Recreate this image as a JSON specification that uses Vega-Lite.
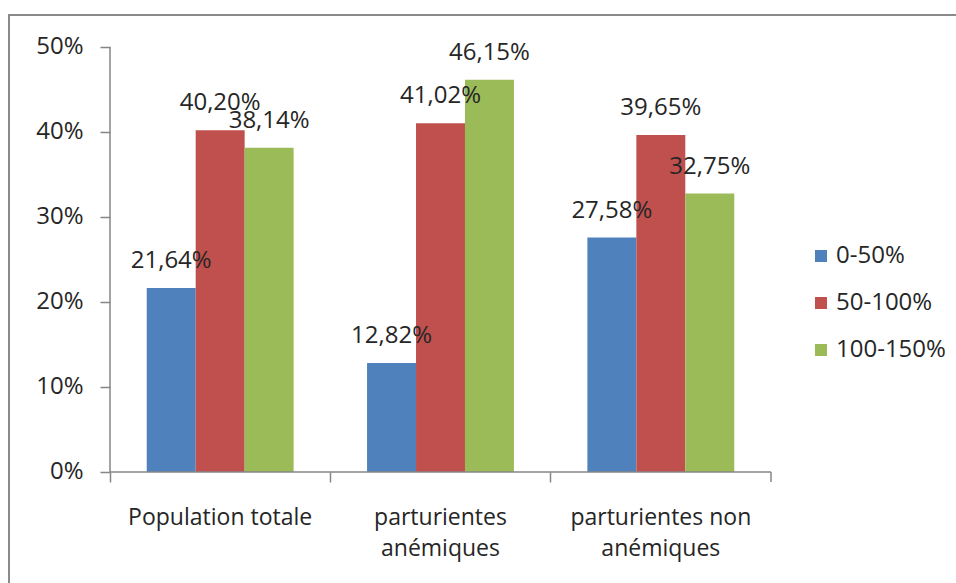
{
  "$schema": "https://vega.github.io/schema/vega-lite/v6.json",
  "width": 949,
  "height": 571,
  "autosize": {"type": "none"},
  "padding": {"left": 9, "top": 15, "right": -2, "bottom": -3},
  "background": "white",
  "config": {
    "locale": {
      "number": {"decimal": ",", "thousands": " ", "grouping": [3], "currency": ["", " €"]}
    },
    "view": {"stroke": "#8a8a8a", "strokeWidth": 2},
    "font": "Open Sans",
    "axis": {
      "labelFont": "Open Sans",
      "labelFontSize": 23,
      "labelColor": "#262626",
      "labelLimit": 400,
      "tickColor": "#868686",
      "tickWidth": 1.5,
      "tickSize": 10,
      "grid": false
    },
    "legend": {
      "labelFont": "Open Sans",
      "labelFontSize": 24,
      "labelColor": "#262626",
      "labelLimit": 400
    }
  },
  "data": {
    "values": [
      {"categorie": "Population totale", "tranche": "0-50%", "part": 0.2164},
      {"categorie": "Population totale", "tranche": "50-100%", "part": 0.4020},
      {"categorie": "Population totale", "tranche": "100-150%", "part": 0.3814},
      {"categorie": "parturientes anémiques", "tranche": "0-50%", "part": 0.1282},
      {"categorie": "parturientes anémiques", "tranche": "50-100%", "part": 0.4102},
      {"categorie": "parturientes anémiques", "tranche": "100-150%", "part": 0.4615},
      {"categorie": "parturientes non anémiques", "tranche": "0-50%", "part": 0.2758},
      {"categorie": "parturientes non anémiques", "tranche": "50-100%", "part": 0.3965},
      {"categorie": "parturientes non anémiques", "tranche": "100-150%", "part": 0.3275}
    ]
  },
  "layer": [
    {
      "mark": {"type": "bar"},
      "encoding": {
        "x": {
          "field": "categorie",
          "type": "nominal",
          "sort": null,
          "scale": {"paddingInner": 0, "paddingOuter": 0.6536, "align": 0.3507},
          "axis": {
            "title": null,
            "orient": "bottom",
            "offset": -114,
            "domain": false,
            "bandPosition": 0,
            "labelAngle": 0,
            "labelFontSize": 23,
            "labelPadding": 24,
            "labelLineHeight": 31,
            "labelExpr": "datum.value == 'parturientes anémiques' ? ['parturientes', 'anémiques'] : datum.value == 'parturientes non anémiques' ? ['parturientes non', 'anémiques'] : datum.label"
          }
        },
        "xOffset": {
          "field": "tranche",
          "type": "nominal",
          "sort": ["0-50%", "50-100%", "100-150%"],
          "scale": {"paddingInner": 0, "paddingOuter": 0.75}
        },
        "y": {
          "field": "part",
          "type": "quantitative",
          "scale": {"domain": [-0.134118, 0.537647], "nice": false, "zero": false},
          "axis": {
            "title": null,
            "orient": "left",
            "offset": -101,
            "domain": false,
            "values": [0, 0.1, 0.2, 0.3, 0.4, 0.5],
            "format": ".0%",
            "labelFontSize": 24,
            "labelPadding": 17
          }
        },
        "color": {
          "field": "tranche",
          "type": "nominal",
          "sort": ["0-50%", "50-100%", "100-150%"],
          "scale": {"range": ["#4F81BD", "#C0504D", "#9BBB59"]},
          "legend": {
            "title": null,
            "orient": "none",
            "legendX": 800,
            "legendY": 229,
            "symbolType": "square",
            "symbolSize": 144,
            "symbolStrokeWidth": 0,
            "labelOffset": 3,
            "rowPadding": 23
          }
        }
      }
    },
    {
      "mark": {"type": "text", "baseline": "alphabetic", "dy": -20, "fontSize": 24, "font": "Open Sans", "color": "#262626"},
      "encoding": {
        "x": {"field": "categorie", "type": "nominal", "sort": null},
        "xOffset": {"field": "tranche", "type": "nominal", "sort": ["0-50%", "50-100%", "100-150%"]},
        "y": {"field": "part", "type": "quantitative"},
        "text": {"field": "part", "type": "quantitative", "format": ".2%"}
      }
    },
    {
      "data": {"values": [{}]},
      "mark": {"type": "rule", "color": "#868686", "strokeWidth": 1.5},
      "encoding": {
        "x": {"datum": "Population totale", "type": "nominal", "bandPosition": 0},
        "y": {"datum": 0, "type": "quantitative"},
        "y2": {"datum": 0.5}
      }
    },
    {
      "data": {"values": [{}]},
      "mark": {"type": "rule", "color": "#868686", "strokeWidth": 1.5},
      "encoding": {
        "x": {"datum": "Population totale", "type": "nominal", "bandPosition": 0},
        "x2": {"datum": "parturientes non anémiques", "bandPosition": 1},
        "y": {"datum": 0, "type": "quantitative"}
      }
    },
    {
      "data": {"values": [{}]},
      "mark": {"type": "rule", "color": "#868686", "strokeWidth": 1.5},
      "encoding": {
        "x": {"datum": "parturientes non anémiques", "type": "nominal", "bandPosition": 1},
        "y": {"datum": 0, "type": "quantitative"},
        "y2": {"datum": -0.01176}
      }
    }
  ]
}
